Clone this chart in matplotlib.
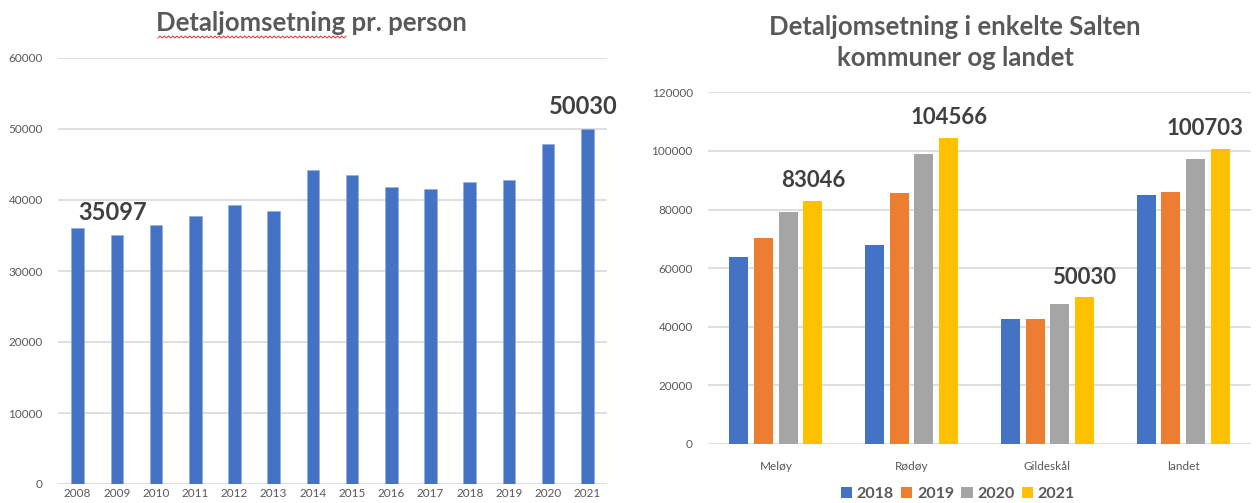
import numpy as np
import matplotlib.pyplot as plt
from matplotlib.lines import Line2D
from matplotlib.patches import Patch

years = ['2008', '2009', '2010', '2011', '2012', '2013', '2014',
         '2015', '2016', '2017', '2018', '2019', '2020', '2021']
per_person = [36000, 35097, 36500, 37800, 39250, 38450, 44270,
              43470, 41830, 41550, 42490, 42820, 47840, 50030]

kommuner = ['Meløy', 'Rødøy', 'Gildeskål', 'landet']
series_years = ['2018', '2019', '2020', '2021']
v2018 = [63800, 68000, 42490, 85000]
v2019 = [70300, 85700, 42820, 86000]
v2020 = [79100, 99000, 47840, 97100]
v2021 = [83046, 104566, 50030, 100703]

colors = ['#4472C4', '#ED7D31', '#A5A5A5', '#FFC000']
grid_c = '#D9D9D9'
text_c = '#595959'
label_c = '#404040'

plt.rcParams['font.family'] = ['Lato', 'DejaVu Sans']

fig = plt.figure(figsize=(12.57, 5.03), dpi=100)
W, H = 1257, 503


def box(x0, x1, y_top, y_bot):
    return [x0 / W, (H - y_bot) / H, (x1 - x0) / W, (y_bot - y_top) / H]


def style(ax):
    for s in ax.spines.values():
        s.set_visible(False)
    ax.yaxis.grid(True, color=grid_c, linewidth=1.2)
    ax.set_axisbelow(True)
    ax.tick_params(axis='both', length=0, labelsize=8.5, labelcolor=text_c)
    ax.tick_params(axis='y', pad=11)


# left chart
ax1 = fig.add_axes(box(58, 607, 58, 484))
x = np.arange(len(years))
ax1.bar(x, per_person, width=0.32, color=colors[0], edgecolor='#8FAADC', linewidth=0.4)
ax1.set_xlim(-0.5, len(years) - 0.5)
ax1.set_ylim(0, 60000)
ax1.set_yticks(range(0, 60001, 10000))
ax1.set_xticks(x)
ax1.set_xticklabels(years)
style(ax1)
ax1.tick_params(axis='x', pad=3)
for i in [1, len(years) - 1]:
    ax1.annotate(str(per_person[i]), (x[i], per_person[i]), xytext=(-3, 8),
                 textcoords='offset points', ha='center', va='bottom',
                 fontsize=17, fontweight='bold', color=label_c, annotation_clip=False)
fig.text(311 / W, 1 - 23 / H, 'Detaljomsetning pr. person', ha='center', va='center',
         fontsize=18.5, fontweight='bold', color=text_c)

# spell-check squiggle under the first word
xs = np.linspace(158, 346, 90)
ys = 37 + 1.0 * np.where(np.arange(90) % 2 == 0, 1, -1)
fig.add_artist(Line2D(xs / W, 1 - ys / H, color='#E03030', linewidth=0.7))

# right chart
ax2 = fig.add_axes(box(708, 1251, 92.3, 444))
g = np.arange(len(kommuner))
step = 0.182
for k, vals in enumerate([v2018, v2019, v2020, v2021]):
    ax2.bar(g + (k - 1.5) * step, vals, width=0.14, color=colors[k], label=series_years[k])
ax2.set_xlim(-0.5, len(kommuner) - 0.5)
ax2.set_ylim(0, 120000)
ax2.set_yticks(range(0, 120001, 20000))
ax2.set_xticks(g)
ax2.set_xticklabels(kommuner)
style(ax2)
ax2.tick_params(axis='x', pad=12)
for j in range(len(kommuner)):
    dx = -11 if j == len(kommuner) - 1 else 0  # keep last label inside the picture
    ax2.annotate(str(v2021[j]), (g[j] + 1.5 * step, v2021[j]), xytext=(dx, 7),
                 textcoords='offset points', ha='center', va='bottom',
                 fontsize=16, fontweight='bold', color=label_c, annotation_clip=False)
fig.text(955 / W, 1 - 27 / H, 'Detaljomsetning i enkelte Salten', ha='center', va='center',
         fontsize=18.5, fontweight='bold', color=text_c)
fig.text(955 / W, 1 - 58 / H, 'kommuner og landet', ha='center', va='center',
         fontsize=18.5, fontweight='bold', color=text_c)

handles = [Patch(facecolor=c) for c in colors]
leg = fig.legend(handles, series_years, loc='center', bbox_to_anchor=(958 / W, 1 - 494 / H),
                 ncol=4, frameon=False, handlelength=0.7, handleheight=0.7,
                 handletextpad=0.3, columnspacing=0.45, borderaxespad=0, borderpad=0,
                 prop={'size': 11.5, 'weight': 'bold'})
for t in leg.get_texts():
    t.set_color(text_c)

fig.savefig('out.png', dpi=100)
